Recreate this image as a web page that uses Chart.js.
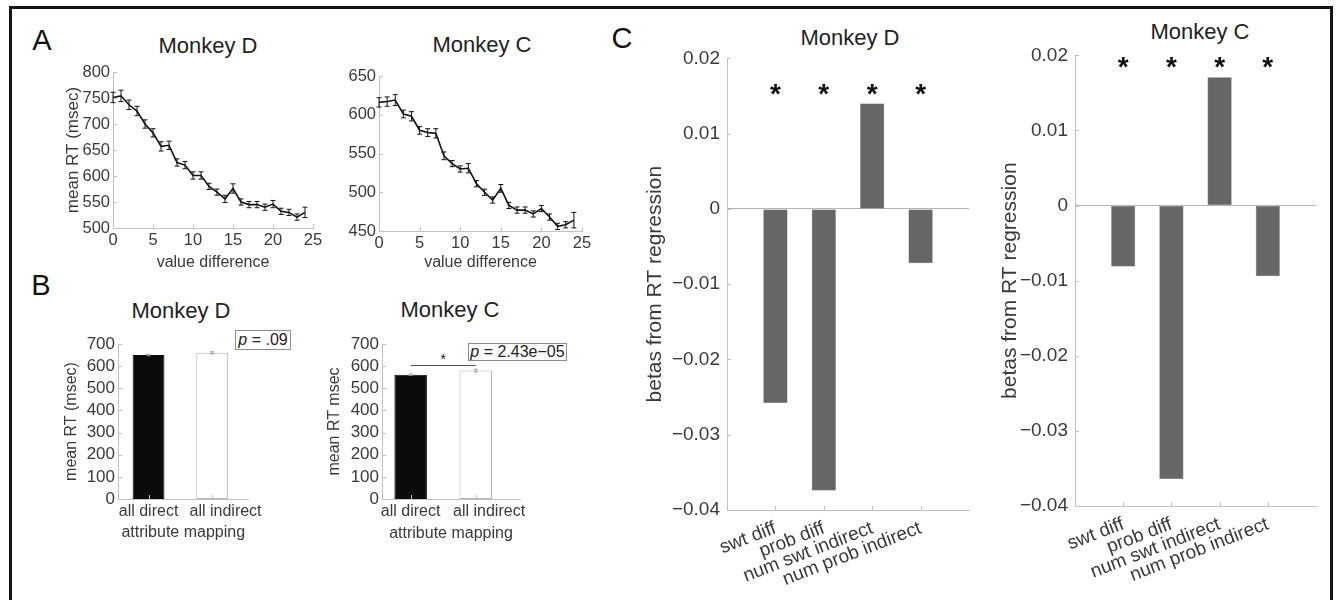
<!DOCTYPE html>
<html>
<head>
<meta charset="utf-8">
<script src="https://cdn.jsdelivr.net/npm/chart.js@4.4.1/dist/chart.umd.min.js"></script>
<style>
  body { margin: 0; width: 1337px; height: 600px; background: #fff; position: relative; overflow: hidden;
         font-family: 'Liberation Sans', Arial, Helvetica, sans-serif; }
  canvas { position: absolute; }
  #frame { position: absolute; left: 9px; top: 6px; width: 1324px; height: 700px; border: 3px solid #151515; box-sizing: border-box; }
  .txt { position: absolute; transform: translate(-50%, -50%); white-space: nowrap; line-height: 1; color: #222; }
  .letter { font-size: 29px; color: #111; }
  .title { font-size: 22px; }
  .pbox { position: absolute; box-sizing: border-box; border: 1px solid #8c8c8c; background: #fff; font-size: 16px;
          color: #222; display: flex; align-items: center; justify-content: center; white-space: nowrap; }
</style>
</head>
<body>
<div id="frame"></div>

<div class="txt letter" style="left:42px;top:40px">A</div>
<div class="txt letter" style="left:41px;top:285px">B</div>
<div class="txt letter" style="left:622px;top:38px">C</div>

<div class="txt title" style="left:208px;top:46px">Monkey D</div>
<div class="txt title" style="left:482px;top:45px">Monkey C</div>
<div class="txt title" style="left:181px;top:311px">Monkey D</div>
<div class="txt title" style="left:450px;top:310px">Monkey C</div>
<div class="txt title" style="left:850px;top:38px">Monkey D</div>
<div class="txt title" style="left:1200px;top:32px">Monkey C</div>

<canvas id="diffD"></canvas>
<canvas id="diffC"></canvas>
<canvas id="mapD"></canvas>
<canvas id="mapC"></canvas>
<canvas id="betaD"></canvas>
<canvas id="betaC"></canvas>

<div class="pbox" style="left:235px;top:330px;width:56px;height:20px"><i>p</i>&nbsp;= .09</div>
<div class="pbox" style="left:468px;top:343px;width:99px;height:18px"><i>p</i>&nbsp;= 2.43e&minus;05</div>

<script>
// ---- data ----
const valueDiff = [0, 1, 2, 3, 4, 5, 6, 7, 8, 9, 10, 11, 12, 13, 14, 15, 16, 17, 18, 19, 20, 21, 22, 23, 24];
const rtDiffMonkeyD = [751, 754, 737, 725, 700, 683, 657, 659, 626, 621, 601, 601, 580, 569, 556, 576, 550, 545, 545, 540, 546, 532, 530, 521, 530];
const semDiffMonkeyD = [10, 11, 9, 9, 8, 8, 9, 8, 7, 7, 7, 7, 6, 6, 7, 9, 6, 6, 6, 6, 7, 6, 6, 6, 10];
const rtDiffMonkeyC = [616, 617, 619, 601, 598, 580, 577, 576, 547, 537, 530, 531, 511, 500, 490, 505, 483, 477, 477, 472, 479, 468, 456, 458, 464];
const semDiffMonkeyC = [6, 6, 7, 5, 6, 5, 5, 6, 5, 4, 4, 6, 4, 4, 4, 5, 4, 4, 4, 4, 4, 4, 4, 4, 10];

const mappingLabels = ['all direct', '\u00a0\u00a0\u00a0\u00a0\u00a0\u00a0all indirect'];
const rtMappingMonkeyD = [650, 660];
const semMappingMonkeyD = [3, 5];
const rtMappingMonkeyC = [561, 580];
const semMappingMonkeyC = [3, 6];

const regressorLabels = ['swt diff', 'prob diff', 'num swt indirect', 'num prob indirect'];
const betaMonkeyD = [-0.0258, -0.0374, 0.0140, -0.0072];
const betaMonkeyC = [-0.0081, -0.0364, 0.0171, -0.0094];
const sigMonkeyD = ['*', '*', '*', '*'];
const sigMonkeyC = ['*', '*', '*', '*'];

const xTicksDiff = [0, 5, 10, 15, 20, 25];
const yTicksRtD = [500, 550, 600, 650, 700, 750, 800];
const yTicksRtC = [450, 500, 550, 600, 650];
const xTicksMapping = [1, 2];
const yTicksMapping = [0, 100, 200, 300, 400, 500, 600, 700];
const xTicksBeta = [1, 2, 3, 4];
const yTicksBeta = [-0.04, -0.03, -0.02, -0.01, 0, 0.01, 0.02];

// ---- style ----
const FONT = "'Liberation Sans', Arial, Helvetica, sans-serif";
const AXIS = '#c2c2c2';
const TICK = '#3a3a3a';

Chart.defaults.font.family = FONT;
Chart.defaults.color = TICK;
Chart.defaults.animation = false;
Chart.defaults.responsive = false;
Chart.defaults.plugins.legend.display = false;
Chart.defaults.plugins.tooltip.enabled = false;

// small inward ticks like matlab axes
const inwardTicks = {
  id: 'inwardTicks',
  afterDatasetsDraw(chart) {
    const {ctx, chartArea: a, scales: {x, y}} = chart;
    ctx.save();
    ctx.strokeStyle = AXIS;
    ctx.lineWidth = 1;
    x.ticks.forEach(t => {
      const px = Math.round(x.getPixelForValue(t.value)) + 0.5;
      ctx.beginPath(); ctx.moveTo(px, a.bottom); ctx.lineTo(px, a.bottom - 4); ctx.stroke();
    });
    y.ticks.forEach(t => {
      const py = Math.round(y.getPixelForValue(t.value)) + 0.5;
      ctx.beginPath(); ctx.moveTo(a.left, py); ctx.lineTo(a.left + 4, py); ctx.stroke();
    });
    ctx.restore();
  }
};

const errorBars = {
  id: 'errorBars',
  afterDatasetsDraw(chart, args, opts) {
    if (!opts.errors) return;
    const {ctx, scales: {y}} = chart;
    ctx.save();
    ctx.strokeStyle = opts.color;
    ctx.lineWidth = opts.width;
    chart.data.datasets.forEach((ds, i) => {
      const err = opts.errors[i];
      chart.getDatasetMeta(i).data.forEach((el, j) => {
        const v = ds.data[j].y;
        const top = y.getPixelForValue(v + err[j]);
        const bot = y.getPixelForValue(v - err[j]);
        const c = opts.cap;
        ctx.beginPath();
        ctx.moveTo(el.x, top); ctx.lineTo(el.x, bot);
        ctx.moveTo(el.x - c, top); ctx.lineTo(el.x + c, top);
        ctx.moveTo(el.x - c, bot); ctx.lineTo(el.x + c, bot);
        ctx.stroke();
      });
    });
    ctx.restore();
  }
};

// text marks and lines placed in data coordinates
const marks = {
  id: 'marks',
  afterDatasetsDraw(chart, args, opts) {
    const {ctx, scales: {x, y}} = chart;
    ctx.save();
    (opts.lines || []).forEach(l => {
      ctx.strokeStyle = l.color; ctx.lineWidth = 1;
      const py = Math.round(y.getPixelForValue(l.y)) + 0.5;
      ctx.beginPath(); ctx.moveTo(x.getPixelForValue(l.x1), py); ctx.lineTo(x.getPixelForValue(l.x2), py); ctx.stroke();
    });
    (opts.items || []).forEach(m => {
      ctx.font = m.font;
      ctx.fillStyle = '#111';
      ctx.textAlign = 'center';
      ctx.textBaseline = 'alphabetic';
      ctx.fillText(m.text, x.getPixelForValue(m.x), y.getPixelForValue(m.y) + m.dy);
    });
    ctx.restore();
  }
};

function placeCanvas(id, box) {
  const c = document.getElementById(id);
  const left = box.l - box.yW;
  const top = box.t - box.padT;
  const w = box.r + box.padR - left;
  const h = box.b + box.xH - top;
  c.style.left = left + 'px'; c.style.top = top + 'px';
  c.style.width = w + 'px'; c.style.height = h + 'px';
  c.width = w; c.height = h;
  return c.getContext('2d');
}

function axis(o) {
  return {
    type: 'linear', min: o.min, max: o.max, offset: false,
    afterBuildTicks: s => { s.ticks = o.ticks.map(v => ({value: v})); },
    afterFit: s => { if (s.isHorizontal()) s.height = o.size; else s.width = o.size; },
    grid: o.zeroLine
      ? {display: true, offset: false, drawTicks: false, lineWidth: 1, color: c => Math.abs(c.tick.value) < 1e-9 ? '#b4b4b4' : 'rgba(0,0,0,0)'}
      : {display: false, offset: false, drawTicks: false},
    border: {color: AXIS, width: 1},
    ticks: {
      autoSkip: false, padding: o.pad, color: TICK, font: {size: o.font},
      maxRotation: o.rot || 0, minRotation: o.rot || 0,
      callback: o.fmt || (v => String(v))
    },
    title: o.title ? {display: true, text: o.title, color: TICK, font: {size: o.titleSize}, padding: 0} : {display: false}
  };
}

function layoutPad(box) {
  return {padding: {top: box.padT, right: box.padR, left: 0, bottom: 0}};
}

// ---- A: RT vs value difference ----
function diffChart(id, box, rt, sem, yMin, yMax, yTicks, yTitle) {
  new Chart(placeCanvas(id, box), {
    type: 'line',
    data: {
      datasets: [{
        data: valueDiff.map((v, i) => ({x: v, y: rt[i]})),
        borderColor: '#141414', borderWidth: 1.6, pointRadius: 0, tension: 0
      }]
    },
    options: {
      layout: layoutPad(box),
      scales: {
        x: axis({min: 0, max: 25, ticks: xTicksDiff, size: box.xH, pad: 3, font: 16.5, title: 'value difference', titleSize: 16}),
        y: axis({min: yMin, max: yMax, ticks: yTicks, size: box.yW, pad: 3, font: 16.5, title: yTitle, titleSize: 17})
      },
      plugins: {errorBars: {errors: [sem], color: '#141414', width: 1, cap: 2.5}}
    },
    plugins: [inwardTicks, errorBars]
  });
}

diffChart('diffD', {l: 113, t: 72, r: 313, b: 228, yW: 50, xH: 44, padT: 16, padR: 16},
  rtDiffMonkeyD, semDiffMonkeyD, 500, 800, yTicksRtD, 'mean RT (msec)');
diffChart('diffC', {l: 379, t: 76, r: 582, b: 231, yW: 34, xH: 41, padT: 16, padR: 16},
  rtDiffMonkeyC, semDiffMonkeyC, 450, 650, yTicksRtC, null);

// ---- B: RT by attribute mapping ----
function mappingChart(id, box, rt, sem, xMin, xMax, yTitle, extra) {
  new Chart(placeCanvas(id, box), {
    type: 'bar',
    data: {
      datasets: [{
        data: xTicksMapping.map((v, i) => ({x: v, y: rt[i]})),
        backgroundColor: ['#0b0b0b', '#ffffff'],
        borderColor: ['#0b0b0b', '#b4b4b4'],
        borderWidth: 1, borderSkipped: false,
        barPercentage: 0.5, categoryPercentage: 1
      }]
    },
    options: {
      layout: layoutPad(box),
      scales: {
        x: axis({min: xMin, max: xMax, ticks: xTicksMapping, size: box.xH, pad: 3, font: 16,
                 fmt: v => mappingLabels[xTicksMapping.indexOf(v)], title: 'attribute mapping', titleSize: 16}),
        y: axis({min: 0, max: 700, ticks: yTicksMapping, size: box.yW, pad: 3, font: 17, title: yTitle, titleSize: 16})
      },
      plugins: {
        errorBars: {errors: [sem], color: '#9a9a9a', width: 1, cap: 2},
        marks: extra || {}
      }
    },
    plugins: [inwardTicks, errorBars, marks]
  });
}

mappingChart('mapD', {l: 118, t: 344, r: 253, b: 499, yW: 56, xH: 43, padT: 16, padR: 16},
  rtMappingMonkeyD, semMappingMonkeyD, 0.52, 2.57, 'mean RT (msec)');
mappingChart('mapC', {l: 382, t: 344, r: 520, b: 499, yW: 57, xH: 44, padT: 16, padR: 16},
  rtMappingMonkeyC, semMappingMonkeyC, 0.56, 2.68, 'mean RT msec', {
    lines: [{x1: 1, x2: 2, y: 605, color: '#555'}],
    items: [{x: 1.5, y: 637, text: '*', font: '14px ' + FONT, dy: 6}]
  });

// ---- C: regression betas ----
function fmtBeta(v) {
  if (Math.abs(v) < 1e-9) return '0';
  return v.toFixed(2).replace('-', '\u2212');
}

function betaChart(id, box, betas, sig, starY) {
  new Chart(placeCanvas(id, box), {
    type: 'bar',
    data: {
      datasets: [{
        data: xTicksBeta.map((v, i) => ({x: v, y: betas[i]})),
        backgroundColor: '#666666', borderColor: '#5c5c5c', borderWidth: 0.5, borderSkipped: false,
        barPercentage: 0.5, categoryPercentage: 1
      }]
    },
    options: {
      layout: layoutPad(box),
      scales: {
        x: axis({min: 0, max: 5, ticks: xTicksBeta, size: box.xH, pad: 7, font: 19, rot: 21,
                 fmt: v => regressorLabels[xTicksBeta.indexOf(v)]}),
        y: axis({min: -0.04, max: 0.02, ticks: yTicksBeta, size: box.yW, pad: 7, font: 19, fmt: fmtBeta,
                 zeroLine: true, title: 'betas from RT regression', titleSize: 21})
      },
      plugins: {
        marks: {items: sig.map((s, i) => ({x: xTicksBeta[i], y: starY, text: s, font: 'bold 28px ' + FONT, dy: 9}))}
      }
    },
    plugins: [inwardTicks, marks]
  });
}

betaChart('betaD', {l: 727, t: 56, r: 969, b: 510, yW: 84, xH: 90, padT: 16, padR: 14}, betaMonkeyD, sigMonkeyD, 0.0153);
betaChart('betaC', {l: 1075, t: 53, r: 1316, b: 506, yW: 77, xH: 90, padT: 16, padR: 10}, betaMonkeyC, sigMonkeyC, 0.0185);
</script>
</body>
</html>
